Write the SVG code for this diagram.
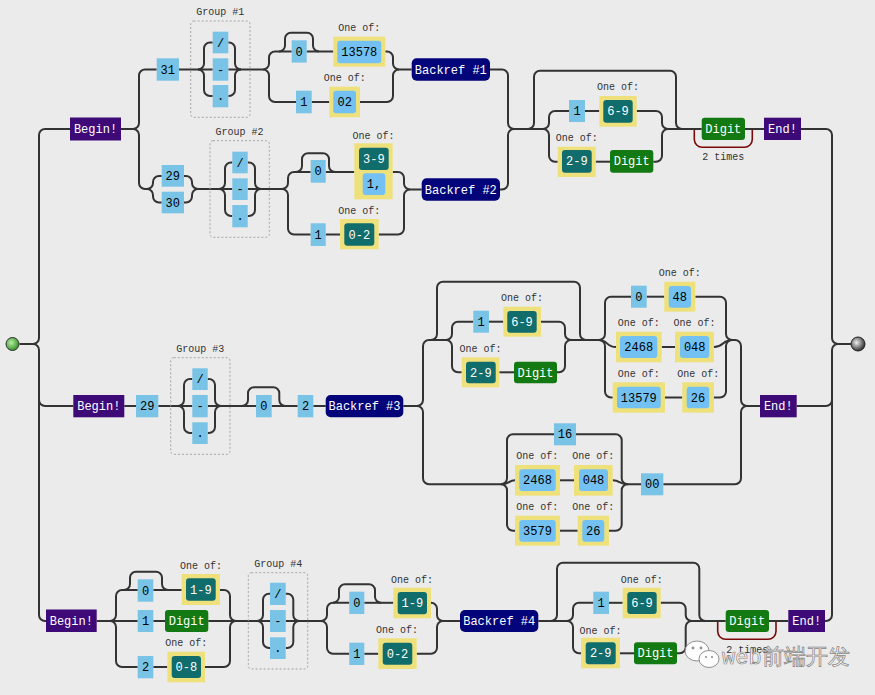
<svg xmlns="http://www.w3.org/2000/svg" width="875" height="695" viewBox="0 0 875 695">
<defs>
<radialGradient id="gs" cx="0.4" cy="0.4" r="0.65"><stop offset="0" stop-color="#b6efa4"/><stop offset="1" stop-color="#2a8a1c"/></radialGradient>
<radialGradient id="ge" cx="0.4" cy="0.4" r="0.65"><stop offset="0" stop-color="#f0f0f0"/><stop offset="1" stop-color="#222"/></radialGradient>
</defs>
<style>
.c path{fill:none;stroke:#333;stroke-width:2}
.c path.loop{stroke:#7a0a0a;stroke-width:1.6}
text{font-family:"Liberation Mono","DejaVu Sans Mono",monospace}
.t{font-size:12px;text-anchor:middle;fill:#000}
.w{fill:#fff}
.lbl{font-size:10px;fill:#333;text-anchor:middle}
.lit{fill:#79c4e6}
.anc{fill:#3e0a78}
.br{fill:#04047a}
.cs{fill:#eee17c}
.rg{fill:#116c6c}
.cl{fill:#72c1f2}
.dg{fill:#137a13}
.grp{fill:none;stroke:#a5a5a5;stroke-width:1;stroke-dasharray:2 2}
</style>
<rect width="875" height="695" fill="#ebebeb"/>
<g class="c" id="connectors">
<path d="M 19.5 344 H 33 a6 6 0 0 0 6 -6 V 135 a6 6 0 0 1 6 -6 H 70"/>
<path d="M 33 344 a6 6 0 0 1 6 6 V 400 a6 6 0 0 0 6 6 H 73.3"/>
<path d="M 39 400 V 615 a6 6 0 0 0 6 6 H 46"/>
<path d="M 801 129 H 826 a6 6 0 0 1 6 6 V 338 a6 6 0 0 0 6 6 H 851"/>
<path d="M 796.7 406 H 826 a6 6 0 0 0 6 -6 V 350 a6 6 0 0 1 6 -6"/>
<path d="M 825 621 H 826 a6 6 0 0 0 6 -6 V 400"/>
<path d="M 121 129 H 133 a6 6 0 0 0 6 -6 V 75.5 a6 6 0 0 1 6 -6 H 156.7"/>
<path d="M 133 129 a6 6 0 0 1 6 6 V 183 a6 6 0 0 0 6 6 H 147"/>
<path d="M 147 189 a6 6 0 0 0 6 -6 V 182 a6 6 0 0 1 6 -6 H 161.7"/>
<path d="M 147 189 a6 6 0 0 1 6 6 V 196.5 a6 6 0 0 0 6 6 H 161.7"/>
<path d="M 184 176 H 186 a6 6 0 0 1 6 6 V 183 a6 6 0 0 0 6 6 H 232.3"/>
<path d="M 184 202.5 H 186 a6 6 0 0 0 6 -6 V 195 a6 6 0 0 1 6 -6"/>
<path d="M 219 189 a6 6 0 0 0 6 -6 V 168.5 a6 6 0 0 1 6 -6 H 232.3"/>
<path d="M 219 189 a6 6 0 0 1 6 6 V 210 a6 6 0 0 0 6 6 H 232.3"/>
<path d="M 247.7 162.5 H 249 a6 6 0 0 1 6 6 V 183 a6 6 0 0 0 6 6"/>
<path d="M 247.7 216 H 249 a6 6 0 0 0 6 -6 V 195 a6 6 0 0 1 6 -6"/>
<path d="M 247.7 189 H 282"/>
<path d="M 282 189 a6 6 0 0 0 6 -6 V 178 a6 6 0 0 1 6 -6 H 310.7"/>
<path d="M 296 172 a6 6 0 0 0 6 -6 V 159.3 a6 6 0 0 1 6 -6 H 323 a6 6 0 0 1 6 6 V 166 a6 6 0 0 0 6 6"/>
<path d="M 325.7 172 H 354.3"/>
<path d="M 282 189 a6 6 0 0 1 6 6 V 228.5 a6 6 0 0 0 6 6 H 310.7"/>
<path d="M 325.7 234.5 H 340"/>
<path d="M 392.7 172 H 398 a6 6 0 0 1 6 6 V 183.5 a6 6 0 0 0 6 6 H 421.7"/>
<path d="M 378.7 234.5 H 398 a6 6 0 0 0 6 -6 V 195.5 a6 6 0 0 1 6 -6"/>
<path d="M 500 189.5 H 502 a6 6 0 0 0 6 -6 V 135 a6 6 0 0 1 6 -6"/>
<path d="M 179 69.5 H 212.7"/>
<path d="M 198 69.5 a6 6 0 0 0 6 -6 V 48.5 a6 6 0 0 1 6 -6 H 212.7"/>
<path d="M 198 69.5 a6 6 0 0 1 6 6 V 90 a6 6 0 0 0 6 6 H 212.7"/>
<path d="M 228.3 42.5 H 229 a6 6 0 0 1 6 6 V 63.5 a6 6 0 0 0 6 6"/>
<path d="M 228.3 96 H 229 a6 6 0 0 0 6 -6 V 75.5 a6 6 0 0 1 6 -6"/>
<path d="M 228.3 69.5 H 263"/>
<path d="M 263 69.5 a6 6 0 0 0 6 -6 V 57.5 a6 6 0 0 1 6 -6 H 291.7"/>
<path d="M 279 51.5 a6 6 0 0 0 6 -6 V 38.7 a6 6 0 0 1 6 -6 H 307 a6 6 0 0 1 6 6 V 45.5 a6 6 0 0 0 6 6"/>
<path d="M 306.7 51.5 H 333.3"/>
<path d="M 263 69.5 a6 6 0 0 1 6 6 V 96 a6 6 0 0 0 6 6 H 296"/>
<path d="M 311.7 102 H 329.3"/>
<path d="M 385.3 51.5 H 387 a6 6 0 0 1 6 6 V 63.5 a6 6 0 0 0 6 6 H 411.7"/>
<path d="M 360 102 H 387 a6 6 0 0 0 6 -6 V 75.5 a6 6 0 0 1 6 -6"/>
<path d="M 490 69.5 H 502 a6 6 0 0 1 6 6 V 123 a6 6 0 0 0 6 6 H 543"/>
<path d="M 528 129 a6 6 0 0 0 6 -6 V 76.7 a6 6 0 0 1 6 -6 H 670 a6 6 0 0 1 6 6 V 123 a6 6 0 0 0 6 6"/>
<path d="M 543 129 a6 6 0 0 0 6 -6 V 117 a6 6 0 0 1 6 -6 H 569"/>
<path d="M 585 111 H 599.3"/>
<path d="M 543 129 a6 6 0 0 1 6 6 V 155.7 a6 6 0 0 0 6 6 H 557.7"/>
<path d="M 595.7 161.7 H 610"/>
<path d="M 636.7 111 H 656 a6 6 0 0 1 6 6 V 123 a6 6 0 0 0 6 6 H 701.7"/>
<path d="M 653.3 161.7 H 656 a6 6 0 0 0 6 -6 V 135 a6 6 0 0 1 6 -6"/>
<path d="M 745 129 H 764"/>
<path class="loop" d="M 694.3 130 V 139.3 a8 8 0 0 0 8 8 H 744.3 a8 8 0 0 0 8 -8 V 130"/>
<path d="M 124.3 406 H 136"/>
<path d="M 158.3 406 H 192.3"/>
<path d="M 178 406 a6 6 0 0 0 6 -6 V 385 a6 6 0 0 1 6 -6 H 192.3"/>
<path d="M 178 406 a6 6 0 0 1 6 6 V 427 a6 6 0 0 0 6 6 H 192.3"/>
<path d="M 207.7 379 H 209 a6 6 0 0 1 6 6 V 400 a6 6 0 0 0 6 6"/>
<path d="M 207.7 433 H 209 a6 6 0 0 0 6 -6 V 412 a6 6 0 0 1 6 -6"/>
<path d="M 207.7 406 H 256"/>
<path d="M 242 406 a6 6 0 0 0 6 -6 V 393.3 a6 6 0 0 1 6 -6 H 273.3 a6 6 0 0 1 6 6 V 400 a6 6 0 0 0 6 6"/>
<path d="M 271.7 406 H 297.7"/>
<path d="M 313.3 406 H 325.7"/>
<path d="M 403.3 406 H 417 a6 6 0 0 0 6 -6 V 346 a6 6 0 0 1 6 -6 H 446"/>
<path d="M 417 406 a6 6 0 0 1 6 6 V 478.3 a6 6 0 0 0 6 6 H 501"/>
<path d="M 431 340 a6 6 0 0 0 6 -6 V 287.7 a6 6 0 0 1 6 -6 H 574 a6 6 0 0 1 6 6 V 334 a6 6 0 0 0 6 6"/>
<path d="M 446 340 a6 6 0 0 0 6 -6 V 327.7 a6 6 0 0 1 6 -6 H 473.3"/>
<path d="M 489 321.7 H 503.3"/>
<path d="M 446 340 a6 6 0 0 1 6 6 V 366.3 a6 6 0 0 0 6 6 H 461.7"/>
<path d="M 499.3 372.3 H 514"/>
<path d="M 541 321.7 H 559 a6 6 0 0 1 6 6 V 334 a6 6 0 0 0 6 6 H 599"/>
<path d="M 557 372.3 H 559 a6 6 0 0 0 6 -6 V 346 a6 6 0 0 1 6 -6"/>
<path d="M 599 340 a6 6 0 0 0 6 -6 V 302.7 a6 6 0 0 1 6 -6 H 631"/>
<path d="M 599 340 C 608 340 606 347 616 347"/>
<path d="M 599 340 a6 6 0 0 1 6 6 V 391.5 a6 6 0 0 0 6 6 H 612.7"/>
<path d="M 646.7 296.7 H 664.3"/>
<path d="M 661.7 347 H 675"/>
<path d="M 665 397.5 H 682.3"/>
<path d="M 695.3 296.7 H 720 a6 6 0 0 1 6 6 V 334 a6 6 0 0 0 6 6 H 735 a6 6 0 0 1 6 6 V 400 a6 6 0 0 0 6 6 H 760"/>
<path d="M 714 347 C 724 347 722 340 732 340"/>
<path d="M 714 397.5 H 720 a6 6 0 0 0 6 -6 V 346 a6 6 0 0 1 6 -6"/>
<path d="M 663.3 484.3 H 735 a6 6 0 0 0 6 -6 V 412 a6 6 0 0 1 6 -6"/>
<path d="M 501 484.3 a6 6 0 0 0 6 -6 V 440.3 a6 6 0 0 1 6 -6 H 554"/>
<path d="M 501 484.3 C 510 484.3 508 480.3 515 480.3"/>
<path d="M 501 484.3 a6 6 0 0 1 6 6 V 524.7 a6 6 0 0 0 6 6 H 515"/>
<path d="M 560 480.3 H 574"/>
<path d="M 560 530.7 H 577.7"/>
<path d="M 576 434.3 H 615.7 a6 6 0 0 1 6 6 V 478.3 a6 6 0 0 0 6 6 H 641"/>
<path d="M 612.7 480.3 C 620 480.3 620 484.3 627.7 484.3"/>
<path d="M 609 530.7 H 615.7 a6 6 0 0 0 6 -6 V 490.3 a6 6 0 0 1 6 -6"/>
<path d="M 96.7 621 H 137.7"/>
<path d="M 110 621 a6 6 0 0 0 6 -6 V 596 a6 6 0 0 1 6 -6 H 137.7"/>
<path d="M 124 590 a6 6 0 0 0 6 -6 V 577.7 a6 6 0 0 1 6 -6 H 156 a6 6 0 0 1 6 6 V 584 a6 6 0 0 0 6 6"/>
<path d="M 153.3 590 H 181.7"/>
<path d="M 110 621 a6 6 0 0 1 6 6 V 661 a6 6 0 0 0 6 6 H 137.7"/>
<path d="M 153.3 667 H 167.3"/>
<path d="M 153.3 621 H 165"/>
<path d="M 220 590 H 224 a6 6 0 0 1 6 6 V 615 a6 6 0 0 0 6 6 H 270"/>
<path d="M 208.3 621 H 236"/>
<path d="M 205 667 H 224 a6 6 0 0 0 6 -6 V 627 a6 6 0 0 1 6 -6"/>
<path d="M 257 621 a6 6 0 0 0 6 -6 V 599.8 a6 6 0 0 1 6 -6 H 270"/>
<path d="M 257 621 a6 6 0 0 1 6 6 V 642 a6 6 0 0 0 6 6 H 270"/>
<path d="M 285.7 593.8 H 287.3 a6 6 0 0 1 6 6 V 615 a6 6 0 0 0 6 6"/>
<path d="M 285.7 648 H 287.3 a6 6 0 0 0 6 -6 V 627 a6 6 0 0 1 6 -6"/>
<path d="M 285.7 621 H 321"/>
<path d="M 321 621 a6 6 0 0 0 6 -6 V 608.8 a6 6 0 0 1 6 -6 H 349.3"/>
<path d="M 333 602.8 a6 6 0 0 0 6 -6 V 590.3 a6 6 0 0 1 6 -6 H 369 a6 6 0 0 1 6 6 V 596.8 a6 6 0 0 0 6 6"/>
<path d="M 364.3 602.8 H 393.3"/>
<path d="M 321 621 a6 6 0 0 1 6 6 V 647.8 a6 6 0 0 0 6 6 H 349.3"/>
<path d="M 364.3 653.8 H 378.3"/>
<path d="M 431 602.8 a6 6 0 0 1 6 6 V 615 a6 6 0 0 0 6 6 H 460"/>
<path d="M 416.7 653.8 H 431 a6 6 0 0 0 6 -6 V 627 a6 6 0 0 1 6 -6"/>
<path d="M 538.3 621 H 567"/>
<path d="M 551 621 a6 6 0 0 0 6 -6 V 568.7 a6 6 0 0 1 6 -6 H 693.3 a6 6 0 0 1 6 6 V 615 a6 6 0 0 0 6 6"/>
<path d="M 567 621 a6 6 0 0 0 6 -6 V 608.8 a6 6 0 0 1 6 -6 H 593.3"/>
<path d="M 609 602.8 H 622.7"/>
<path d="M 567 621 a6 6 0 0 1 6 6 V 647.3 a6 6 0 0 0 6 6 H 581"/>
<path d="M 620 653.3 H 634"/>
<path d="M 660.7 602.8 H 679.7 a6 6 0 0 1 6 6 V 615 a6 6 0 0 0 6 6 H 725.7"/>
<path d="M 677 653.3 H 679.7 a6 6 0 0 0 6 -6 V 627 a6 6 0 0 1 6 -6"/>
<path d="M 769 621 H 788.3"/>
<path class="loop" d="M 717.7 622 V 631.3 a8 8 0 0 0 8 8 H 768 a8 8 0 0 0 8 -8 V 622"/>
</g>
<g id="start"><circle cx="12.5" cy="344" r="6.5" fill="url(#gs)" stroke="#333" stroke-width="1"/></g>
<g id="finish"><circle cx="858" cy="344" r="7" fill="url(#ge)" stroke="#222" stroke-width="1"/></g>
<g id="begin1"><rect class="anc" x="70" y="117.5" width="51" height="23"/><text class="t w" x="95.5" y="133">Begin!</text></g>
<g id="lit31"><rect class="lit" x="156.7" y="58.3" width="22.3" height="22.4"/><text class="t" x="167.8" y="73.5">31</text></g>
<g id="group1"><rect class="grp" x="190.7" y="21" width="59.3" height="96.3" rx="3"/><text class="lbl" x="220.3" y="14.5">Group #1</text>
<rect class="lit" x="212.7" y="31.7" width="15.6" height="21.6"/><text class="t" x="220.5" y="46.5">/</text>
<rect class="lit" x="212.7" y="58.3" width="15.6" height="22.4"/><text class="t" x="220.5" y="73.5">-</text>
<rect class="lit" x="212.7" y="85" width="15.6" height="22.3"/><text class="t" x="220.5" y="100">.</text></g>
<g id="lit0a"><rect class="lit" x="291.7" y="40.3" width="15" height="22.3"/><text class="t" x="299.2" y="55.5">0</text></g>
<g id="cs13578"><text class="lbl" x="359.3" y="30.8">One of:</text><rect class="cs" x="333.3" y="36.7" width="52" height="30"/><rect class="cl" x="337.3" y="40.7" width="44" height="22.6" rx="3"/><text class="t" x="359.3" y="55.7">13578</text></g>
<g id="lit1a"><rect class="lit" x="296" y="90.7" width="15.7" height="22.6"/><text class="t" x="303.8" y="106">1</text></g>
<g id="cs02"><text class="lbl" x="344.7" y="81.2">One of:</text><rect class="cs" x="329.3" y="86.7" width="30.7" height="30.6"/><rect class="cl" x="333.3" y="90.7" width="22.7" height="22.6" rx="3"/><text class="t" x="344.7" y="106">02</text></g>
<g id="backref1"><rect class="br" x="411.7" y="58.3" width="78.3" height="22.4" rx="5"/><text class="t w" x="450.8" y="73.5">Backref #1</text></g>
<g id="lit29"><rect class="lit" x="161.7" y="165" width="22.3" height="21.7"/><text class="t" x="172.8" y="180">29</text></g>
<g id="lit30"><rect class="lit" x="161.7" y="191.7" width="22.3" height="21.6"/><text class="t" x="172.8" y="206.5">30</text></g>
<g id="group2"><rect class="grp" x="210" y="140.7" width="59.3" height="96.6" rx="3"/><text class="lbl" x="239.6" y="134.5">Group #2</text>
<rect class="lit" x="232.3" y="151.7" width="15.4" height="21.6"/><text class="t" x="240" y="166.5">/</text>
<rect class="lit" x="232.3" y="178.3" width="15.4" height="21.7"/><text class="t" x="240" y="193">-</text>
<rect class="lit" x="232.3" y="205" width="15.4" height="22.3"/><text class="t" x="240" y="220">.</text></g>
<g id="lit0b"><rect class="lit" x="310.7" y="160" width="15" height="22.7"/><text class="t" x="318.2" y="175.3">0</text></g>
<g id="cs139"><text class="lbl" x="373.5" y="138.5">One of:</text><rect class="cs" x="354.3" y="143.3" width="38.4" height="56"/><rect class="rg" x="359" y="147.7" width="29.7" height="22.3" rx="3"/><text class="t w" x="373.8" y="162.8">3-9</text><rect class="cl" x="362.7" y="173.3" width="22.6" height="21.7" rx="3"/><text class="t" x="374" y="188.2">1,</text></g>
<g id="lit1b"><rect class="lit" x="310.7" y="223.3" width="15" height="22.7"/><text class="t" x="318.2" y="238.7">1</text></g>
<g id="cs02r"><text class="lbl" x="359.3" y="214.2">One of:</text><rect class="cs" x="340" y="219" width="38.7" height="30.3"/><rect class="rg" x="344.3" y="223.3" width="30" height="22.4" rx="3"/><text class="t w" x="359.3" y="238.5">0-2</text></g>
<g id="backref2"><rect class="br" x="421.7" y="178.3" width="78.3" height="22.4" rx="5"/><text class="t w" x="460.8" y="193.5">Backref #2</text></g>
<g id="lit1c"><rect class="lit" x="569" y="100" width="16" height="22"/><text class="t" x="577" y="115">1</text></g>
<g id="cs69a"><text class="lbl" x="618" y="90.2">One of:</text><rect class="cs" x="599.3" y="96" width="37.4" height="30.7"/><rect class="rg" x="603.3" y="100" width="29.4" height="22.7" rx="3"/><text class="t w" x="618" y="115.3">6-9</text></g>
<g id="cs29a"><text class="lbl" x="576.7" y="141.2">One of:</text><rect class="cs" x="557.7" y="146.7" width="38" height="30.3"/><rect class="rg" x="562" y="150" width="29.7" height="22.7" rx="3"/><text class="t w" x="576.8" y="165.3">2-9</text></g>
<g id="digit1a"><rect class="dg" x="610" y="150" width="43.3" height="22.7" rx="3"/><text class="t w" x="631.7" y="165.3">Digit</text></g>
<g id="digit1b"><rect class="dg" x="701.7" y="117.7" width="43.3" height="22.3" rx="3"/><text class="t w" x="723.3" y="133">Digit</text><text class="lbl" x="723.3" y="160.2">2 times</text></g>
<g id="end1"><rect class="anc" x="764" y="117.7" width="37" height="22.3"/><text class="t w" x="782.5" y="133">End!</text></g>
<g id="begin2"><rect class="anc" x="73.3" y="395" width="51" height="22.3"/><text class="t w" x="98.8" y="410">Begin!</text></g>
<g id="lit29b"><rect class="lit" x="136" y="395" width="22.3" height="22.3"/><text class="t" x="147.2" y="410">29</text></g>
<g id="group3"><rect class="grp" x="170.7" y="357.7" width="59.3" height="96.6" rx="3"/><text class="lbl" x="200.3" y="351.8">Group #3</text>
<rect class="lit" x="192.3" y="368.3" width="15.4" height="21.7"/><text class="t" x="200" y="383">/</text>
<rect class="lit" x="192.3" y="395" width="15.4" height="22.3"/><text class="t" x="200" y="410">-</text>
<rect class="lit" x="192.3" y="422.3" width="15.4" height="21.7"/><text class="t" x="200" y="437">.</text></g>
<g id="lit0c"><rect class="lit" x="256" y="395" width="15.7" height="22.3"/><text class="t" x="263.8" y="410">0</text></g>
<g id="lit2"><rect class="lit" x="297.7" y="395" width="15.6" height="22.3"/><text class="t" x="305.5" y="410">2</text></g>
<g id="backref3"><rect class="br" x="325.7" y="395" width="77.6" height="22.3" rx="5"/><text class="t w" x="364.5" y="410">Backref #3</text></g>
<g id="lit1d"><rect class="lit" x="473.3" y="310.7" width="15.7" height="22"/><text class="t" x="481.2" y="325.7">1</text></g>
<g id="cs69b"><text class="lbl" x="522" y="301.2">One of:</text><rect class="cs" x="503.3" y="306.7" width="37.7" height="30"/><rect class="rg" x="507.3" y="311" width="29.4" height="21.7" rx="3"/><text class="t w" x="522" y="325.8">6-9</text></g>
<g id="cs29b"><text class="lbl" x="480.5" y="351.8">One of:</text><rect class="cs" x="461.7" y="357.3" width="37.6" height="30"/><rect class="rg" x="466" y="361.7" width="29.7" height="21.6" rx="3"/><text class="t w" x="480.8" y="376.5">2-9</text></g>
<g id="digit2"><rect class="dg" x="514" y="361.7" width="43" height="21.6" rx="3"/><text class="t w" x="535.5" y="376.5">Digit</text></g>
<g id="lit0d"><rect class="lit" x="631" y="285.7" width="15.7" height="22"/><text class="t" x="638.8" y="300.7">0</text></g>
<g id="cs48"><text class="lbl" x="679.8" y="276.2">One of:</text><rect class="cs" x="664.3" y="281.7" width="31" height="30"/><rect class="cl" x="668.7" y="286" width="22.3" height="21.7" rx="3"/><text class="t" x="679.8" y="300.8">48</text></g>
<g id="cs2468a"><text class="lbl" x="638.8" y="326.2">One of:</text><rect class="cs" x="616" y="331.7" width="45.7" height="30.6"/><rect class="cl" x="620" y="336" width="37.3" height="22" rx="3"/><text class="t" x="638.7" y="351">2468</text></g>
<g id="cs048a"><text class="lbl" x="694.5" y="326.2">One of:</text><rect class="cs" x="675" y="331.7" width="39" height="30.6"/><rect class="cl" x="680" y="336" width="29.3" height="22" rx="3"/><text class="t" x="694.7" y="351">048</text></g>
<g id="cs13579"><text class="lbl" x="638.8" y="376.8">One of:</text><rect class="cs" x="612.7" y="382.3" width="52.3" height="30.4"/><rect class="cl" x="617" y="386.7" width="43.7" height="21.6" rx="3"/><text class="t" x="638.8" y="401.5">13579</text></g>
<g id="cs26a"><text class="lbl" x="698.2" y="376.8">One of:</text><rect class="cs" x="682.3" y="382.3" width="31.7" height="30.4"/><rect class="cl" x="686.7" y="386.7" width="22.6" height="21.6" rx="3"/><text class="t" x="698" y="401.5">26</text></g>
<g id="lit16"><rect class="lit" x="554" y="423.3" width="22" height="22"/><text class="t" x="565" y="438.3">16</text></g>
<g id="cs2468b"><text class="lbl" x="537.2" y="459.2">One of:</text><rect class="cs" x="515" y="465" width="45" height="30.7"/><rect class="cl" x="519.3" y="469.3" width="36.4" height="21.7" rx="3"/><text class="t" x="537.5" y="484.3">2468</text></g>
<g id="cs048b"><text class="lbl" x="593.2" y="459.2">One of:</text><rect class="cs" x="574" y="465" width="38.7" height="30.7"/><rect class="cl" x="579" y="469.3" width="29" height="21.7" rx="3"/><text class="t" x="593.5" y="484.3">048</text></g>
<g id="cs3579"><text class="lbl" x="537.2" y="510.2">One of:</text><rect class="cs" x="515" y="515.7" width="45" height="30"/><rect class="cl" x="519.3" y="520" width="36.4" height="21.7" rx="3"/><text class="t" x="537.5" y="535">3579</text></g>
<g id="cs26b"><text class="lbl" x="593.2" y="510.2">One of:</text><rect class="cs" x="577.7" y="515.7" width="31.3" height="30"/><rect class="cl" x="582.3" y="520" width="22" height="21.7" rx="3"/><text class="t" x="593.3" y="535">26</text></g>
<g id="lit00"><rect class="lit" x="641" y="473.3" width="22.3" height="22"/><text class="t" x="652.2" y="488.3">00</text></g>
<g id="end2"><rect class="anc" x="760" y="395" width="36.7" height="22.3"/><text class="t w" x="778.3" y="410">End!</text></g>
<g id="begin3"><rect class="anc" x="46" y="609.5" width="50.7" height="22.5"/><text class="t w" x="71.3" y="625">Begin!</text></g>
<g id="lit0e"><rect class="lit" x="137.7" y="579.3" width="15.6" height="22.4"/><text class="t" x="145.5" y="594.5">0</text></g>
<g id="cs19a"><text class="lbl" x="201" y="569.2">One of:</text><rect class="cs" x="181.7" y="574" width="38.3" height="31"/><rect class="rg" x="186" y="578.3" width="29.7" height="22.4" rx="3"/><text class="t w" x="200.8" y="593.5">1-9</text></g>
<g id="lit1e"><rect class="lit" x="137.7" y="610" width="15.6" height="22"/><text class="t" x="145.5" y="625">1</text></g>
<g id="digit3a"><rect class="dg" x="165" y="610" width="43.3" height="22" rx="3"/><text class="t w" x="186.7" y="625">Digit</text></g>
<g id="lit2b"><rect class="lit" x="137.7" y="656" width="15.6" height="22.3"/><text class="t" x="145.5" y="671">2</text></g>
<g id="cs08"><text class="lbl" x="186.2" y="646.2">One of:</text><rect class="cs" x="167.3" y="651.7" width="37.7" height="30.6"/><rect class="rg" x="171.7" y="656" width="29.3" height="22" rx="3"/><text class="t w" x="186.3" y="671">0-8</text></g>
<g id="group4"><rect class="grp" x="248.3" y="572.7" width="59.4" height="96.3" rx="3"/><text class="lbl" x="278.3" y="566.8">Group #4</text>
<rect class="lit" x="270" y="582.7" width="15.7" height="22.3"/><text class="t" x="277.8" y="597.8">/</text>
<rect class="lit" x="270" y="610" width="15.7" height="22"/><text class="t" x="277.8" y="625">-</text>
<rect class="lit" x="270" y="637.3" width="15.7" height="21.7"/><text class="t" x="277.8" y="652">.</text></g>
<g id="lit0f"><rect class="lit" x="349.3" y="591.7" width="15" height="22.3"/><text class="t" x="356.8" y="606.8">0</text></g>
<g id="cs19b"><text class="lbl" x="412" y="582.5">One of:</text><rect class="cs" x="393.3" y="587.7" width="37.7" height="30.6"/><rect class="rg" x="397.7" y="592" width="29.3" height="22.3" rx="3"/><text class="t w" x="412.3" y="607">1-9</text></g>
<g id="lit1f"><rect class="lit" x="349.3" y="642.7" width="15" height="22.3"/><text class="t" x="356.8" y="657.8">1</text></g>
<g id="cs02b"><text class="lbl" x="397" y="632.8">One of:</text><rect class="cs" x="378.3" y="638.3" width="38.4" height="30.7"/><rect class="rg" x="382.7" y="642.7" width="29.6" height="22" rx="3"/><text class="t w" x="397.5" y="657.7">0-2</text></g>
<g id="backref4"><rect class="br" x="460" y="610" width="78.3" height="22" rx="5"/><text class="t w" x="499.2" y="625">Backref #4</text></g>
<g id="lit1g"><rect class="lit" x="593.3" y="591.7" width="15.7" height="22.3"/><text class="t" x="601.2" y="606.8">1</text></g>
<g id="cs69c"><text class="lbl" x="641.8" y="582.5">One of:</text><rect class="cs" x="622.7" y="587.7" width="38" height="30.6"/><rect class="rg" x="627.3" y="592" width="29.4" height="22" rx="3"/><text class="t w" x="642" y="607">6-9</text></g>
<g id="cs29c"><text class="lbl" x="600.5" y="633.5">One of:</text><rect class="cs" x="581" y="637.7" width="39" height="30.6"/><rect class="rg" x="585.7" y="642.3" width="30" height="22" rx="3"/><text class="t w" x="600.7" y="657.3">2-9</text></g>
<g id="digit3b"><rect class="dg" x="634" y="642.3" width="43" height="22" rx="3"/><text class="t w" x="655.5" y="657.3">Digit</text></g>
<g id="digit3c"><rect class="dg" x="725.7" y="610" width="43.3" height="22" rx="3"/><text class="t w" x="747.3" y="625">Digit</text><text class="lbl" x="747.3" y="652.5">2 times</text></g>
<g id="end3"><rect class="anc" x="788.3" y="610" width="36.7" height="22"/><text class="t w" x="806.7" y="625">End!</text></g>
<g id="watermark" opacity="0.92">
<ellipse cx="697" cy="651" rx="12" ry="10" fill="#fff" stroke="#8a8a8a" stroke-width="1"/>
<ellipse cx="709" cy="659" rx="10" ry="8.5" fill="#fff" stroke="#8a8a8a" stroke-width="1"/>
<circle cx="693" cy="648" r="1.4" fill="#8a8a8a"/><circle cx="701" cy="648" r="1.4" fill="#8a8a8a"/>
<circle cx="706" cy="657" r="1.1" fill="#8a8a8a"/><circle cx="712" cy="657" r="1.1" fill="#8a8a8a"/>
<text x="722" y="664" font-family="'Noto Sans','Noto Sans CJK SC',sans-serif" font-size="22" fill="#fff" stroke="#7a7a7a" stroke-width="0.7">web前端开发</text>
</g>
</svg>
